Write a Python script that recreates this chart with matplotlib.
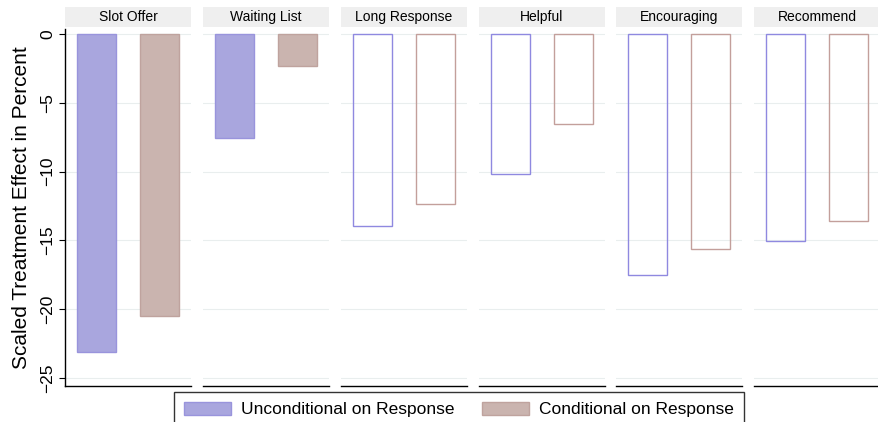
import matplotlib.pyplot as plt
from matplotlib.patches import Rectangle

plt.rcParams["font.family"] = ["Liberation Sans", "DejaVu Sans"]

panels = ["Slot Offer", "Waiting List", "Long Response", "Helpful", "Encouraging", "Recommend"]
unconditional = [-23.1, -7.55, -13.95, -10.15, -17.5, -15.05]
conditional = [-20.5, -2.35, -12.35, -6.55, -15.6, -13.6]
filled = [True, True, False, False, False, False]
series_labels = ["Unconditional on Response", "Conditional on Response"]

blue_fill, blue_edge = "#a9a6de", "#9994dc"
brown_fill, brown_edge = "#cab4af", "#bfa39e"
blue_line, brown_line = "#8f89e0", "#c39f9b"

W, H = 879, 422
fig = plt.figure(figsize=(W / 100, H / 100), dpi=100)

lefts = [65, 203, 341, 479, 616, 754]
pw = 126
top_px, bot_px = 29, 386

for i, name in enumerate(panels):
    ax = fig.add_axes([lefts[i] / W, (H - bot_px) / H, pw / W, (bot_px - top_px) / H])
    if filled[i]:
        ax.bar(1, unconditional[i], width=0.63, color=blue_fill, edgecolor=blue_edge, linewidth=1, zorder=3)
        ax.bar(2, conditional[i], width=0.63, color=brown_fill, edgecolor=brown_edge, linewidth=1, zorder=3)
    else:
        ax.bar(1, unconditional[i], width=0.63, color="none", edgecolor=blue_line, linewidth=1, zorder=3)
        ax.bar(2, conditional[i], width=0.63, color="none", edgecolor=brown_line, linewidth=1, zorder=3)
    ax.set_xlim(0.5, 2.5)
    ax.set_ylim(-25.58, 0.36)
    ax.set_yticks([0, -5, -10, -15, -20, -25])
    ax.grid(axis="y", color="#e9eeee", linewidth=0.8, zorder=0)
    ax.set_xticks([])
    for s in ["top", "right"]:
        ax.spines[s].set_visible(False)
    ax.spines["bottom"].set_color("black")
    ax.spines["bottom"].set_linewidth(1)
    if i == 0:
        ax.spines["left"].set_color("black")
        ax.spines["left"].set_linewidth(1)
        ax.tick_params(axis="y", length=4, width=0.8, labelsize=12.5, pad=3)
        for lab in ax.get_yticklabels():
            lab.set_rotation(90)
            lab.set_va("center")
        ax.set_ylabel("Scaled Treatment Effect in Percent", fontsize=15, labelpad=7)
    else:
        ax.spines["left"].set_visible(False)
        ax.tick_params(axis="y", left=False, labelleft=False)
    h = bot_px - top_px
    strip = Rectangle((0, (bot_px - 27) / h), 1, 20 / h, transform=ax.transAxes,
                      facecolor="#efefef", edgecolor="none", clip_on=False)
    ax.add_patch(strip)
    ax.text(0.5, (bot_px - 17) / h, name, transform=ax.transAxes, ha="center", va="center", fontsize=10)

handles = [Rectangle((0, 0), 1, 1, facecolor=blue_fill, edgecolor=blue_edge),
           Rectangle((0, 0), 1, 1, facecolor=brown_fill, edgecolor=brown_edge)]
leg = fig.legend(handles, series_labels, loc="upper center", bbox_to_anchor=(459 / W, 1 - 392 / H),
                 ncol=2, fontsize=12.5, frameon=True, fancybox=False, edgecolor="black",
                 handlelength=2.7, handleheight=0.8, columnspacing=1.6, borderpad=0.55,
                 handletextpad=0.6, borderaxespad=0)
leg.get_frame().set_linewidth(1)

fig.savefig("out.png", dpi=100)
